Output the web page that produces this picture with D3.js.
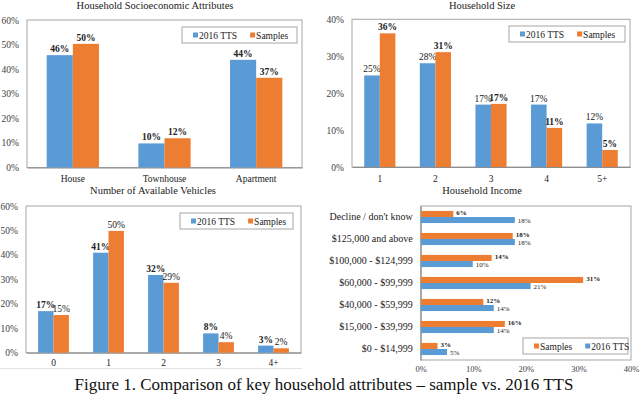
<!DOCTYPE html>
<html>
<head>
<meta charset="utf-8">
<title>Comparison of key household attributes</title>
<style>
  body { margin: 0; background: #fff; }
  svg { display: block; font-family: "Liberation Serif", "Times New Roman", serif; }
  svg text { font-family: "Liberation Serif", "Times New Roman", serif; }
  .tick-label { font-size: 9.5px; fill: #404040; }
  .cat-label { font-size: 9.5px; fill: #222; }
  .title { font-size: 10.5px; fill: #222; }
  .legend text { font-size: 9.5px; fill: #222; }
</style>
</head>
<body>
<svg id="chart" width="640" height="396"></svg>
<script src="https://d3js.org/d3.v7.min.js"></script>
<script>
// ---- data (percent) ----
var seriesNames = ["2016 TTS", "Samples"];

var socioCats = ["House", "Townhouse", "Apartment"];
var socioTTS = [45.7, 9.8, 43.8];
var socioSamples = [50.3, 11.9, 36.5];
var socioTicks = [0, 10, 20, 30, 40, 50, 60];

var sizeCats = ["1", "2", "3", "4", "5+"];
var sizeTTS = [24.8, 28.1, 16.9, 16.9, 11.8];
var sizeSamples = [36.2, 31.1, 17.1, 10.6, 4.6];
var sizeTicks = [0, 10, 20, 30, 40];

var vehCats = ["0", "1", "2", "3", "4+"];
var vehTTS = [17.0, 40.9, 31.8, 7.9, 2.9];
var vehSamples = [15.4, 49.8, 28.6, 4.3, 1.8];
var vehTicks = [0, 10, 20, 30, 40, 50, 60];

var incomeCats = ["Decline / don't know", "$125,000 and above", "$100,000 - $124,999",
  "$60,000 - $99,999", "$40,000 - $59,999", "$15,000 - $39,999", "$0 - $14,999"];
var incomeSamples = [6.2, 17.5, 13.5, 30.9, 11.9, 16.0, 3.2];
var incomeTTS = [17.9, 17.9, 9.9, 20.9, 13.9, 13.9, 5.0];
var incomeTicks = [0, 10, 20, 30, 40];

var caption = "Figure 1. Comparison of key household attributes \u2013 sample vs. 2016 TTS";

// ---- styles ----
var blue = "#5b9bd5";
var orange = "#ed7d31";
var frameColor = "#a6a6a6";

var svg = d3.select("#chart");
svg.append("rect").attr("width", 640).attr("height", 396).attr("fill", "#fff");

function pct(v) { return Math.round(v) + "%"; }

// strip d3 axis default font so the serif from css applies
function plainAxis(a, cls) {
  a.attr("font-family", null).attr("font-size", null);
  a.selectAll("text").attr("class", cls).attr("fill", null);
}

// legend box with swatches
function legend(g, x, y, w, items) {
  var lg = g.append("g").attr("class", "legend").attr("transform", "translate(" + x + "," + y + ")");
  lg.append("rect").attr("width", w).attr("height", 16)
    .attr("fill", "#fff").attr("stroke", frameColor).attr("stroke-width", 1);
  var cx = 11;
  items.forEach(function(it) {
    lg.append("rect").attr("x", cx).attr("y", 5.5).attr("width", 5).attr("height", 5).attr("fill", it.color);
    var t = lg.append("text").attr("x", cx + 6).attr("y", 11.5).text(it.name);
    cx += 6 + t.node().getComputedTextLength() + 13;
  });
}

// vertical grouped bar panel
function vPanel(o) {
  var g = svg.append("g");
  var x = d3.scaleBand().domain(o.cats).range([o.left, o.right]).paddingInner(o.pad).paddingOuter(o.pad / 2);
  var xs = d3.scaleBand().domain(seriesNames).range([0, x.bandwidth()]);
  var y = d3.scaleLinear().domain([0, d3.max(o.ticks)]).range([o.bottom, o.top]);

  g.append("text").attr("class", "title").attr("x", o.titleX).attr("y", o.titleY)
    .attr("text-anchor", "middle").text(o.title);

  g.append("rect").attr("x", o.left).attr("y", o.top)
    .attr("width", o.right - o.left).attr("height", o.bottom - o.top)
    .attr("fill", "none").attr("stroke", frameColor);

  var yAxis = d3.axisLeft(y).tickValues(o.ticks).tickSize(0).tickPadding(8)
    .tickFormat(function(d) { return d + "%"; });
  var ya = g.append("g").attr("transform", "translate(" + o.left + ",0)").call(yAxis);
  ya.select(".domain").remove();
  plainAxis(ya, "tick-label");

  var xAxis = d3.axisBottom(x).tickSize(0).tickPadding(o.xPad);
  var xa = g.append("g").attr("transform", "translate(0," + o.bottom + ")").call(xAxis);
  xa.select(".domain").attr("stroke", "#8c8c8c");
  plainAxis(xa, "cat-label");

  var series = [{ name: seriesNames[0], vals: o.tts, color: blue, bold: o.boldTTS },
                { name: seriesNames[1], vals: o.samples, color: orange, bold: o.boldSamples }];
  series.forEach(function(s) {
    var sg = g.append("g");
    sg.selectAll("rect").data(s.vals).join("rect")
      .attr("x", function(d, i) { return x(o.cats[i]) + xs(s.name); })
      .attr("y", function(d) { return y(d); })
      .attr("width", xs.bandwidth())
      .attr("height", function(d) { return o.bottom - y(d); })
      .attr("fill", s.color);
    sg.selectAll("text").data(s.vals).join("text")
      .attr("x", function(d, i) { return x(o.cats[i]) + xs(s.name) + xs.bandwidth() / 2; })
      .attr("y", function(d) { return y(d) - 3; })
      .attr("text-anchor", "middle")
      .attr("font-size", "9.5px")
      .attr("font-weight", s.bold ? "bold" : "normal")
      .attr("fill", "#222")
      .text(pct);
  });

  legend(g, o.legX, o.legY, o.legW, [{ name: seriesNames[0], color: blue }, { name: seriesNames[1], color: orange }]);
}

vPanel({ title: "Household Socioeconomic Attributes", titleX: 155, titleY: 9,
  cats: socioCats, tts: socioTTS, samples: socioSamples, ticks: socioTicks,
  left: 27, right: 302, top: 20, bottom: 167.5, pad: 0.43, xPad: 8,
  boldTTS: true, boldSamples: true, legX: 182, legY: 27, legW: 115 });

vPanel({ title: "Household Size", titleX: 482, titleY: 9,
  cats: sizeCats, tts: sizeTTS, samples: sizeSamples, ticks: sizeTicks,
  left: 352, right: 630, top: 19.3, bottom: 167, pad: 0.44, xPad: 8,
  boldTTS: false, boldSamples: true, legX: 509, legY: 26, legW: 116 });

vPanel({ title: "Number of Available Vehicles", titleX: 153, titleY: 194,
  cats: vehCats, tts: vehTTS, samples: vehSamples, ticks: vehTicks,
  left: 26, right: 301, top: 206, bottom: 352.7, pad: 0.44, xPad: 7,
  boldTTS: true, boldSamples: false, legX: 180, legY: 213, legW: 113 });

// faint outer border under the vehicles chart
svg.append("line").attr("x1", 0).attr("x2", 302).attr("y1", 368.5).attr("y2", 368.5)
  .attr("stroke", "#e4e4e4");

// horizontal income panel
(function() {
  var left = 420.7, right = 631, top = 206, bottom = 360;
  var g = svg.append("g");
  var y = d3.scaleBand().domain(incomeCats).range([top, bottom]).paddingInner(0.45).paddingOuter(0.225);
  var ys = d3.scaleBand().domain(["Samples", "2016 TTS"]).range([0, y.bandwidth()]);
  var x = d3.scaleLinear().domain([0, 40]).range([left, right]);

  g.append("text").attr("class", "title").attr("x", 482).attr("y", 194)
    .attr("text-anchor", "middle").text("Household Income");

  g.append("rect").attr("x", left).attr("y", top).attr("width", right - left).attr("height", bottom - top)
    .attr("fill", "none").attr("stroke", frameColor);

  var xa = g.append("g").attr("transform", "translate(0," + bottom + ")")
    .call(d3.axisBottom(x).tickValues(incomeTicks).tickSize(0).tickPadding(6)
      .tickFormat(function(d) { return d + "%"; }));
  xa.select(".domain").remove();
  plainAxis(xa, "tick-label");
  xa.selectAll("text").style("font-size", "8.5px");

  var ya = g.append("g").attr("transform", "translate(" + left + ",0)")
    .call(d3.axisLeft(y).tickSize(0).tickPadding(8));
  ya.select(".domain").attr("stroke", "#8c8c8c");
  plainAxis(ya, "cat-label");
  ya.selectAll("text").style("font-size", "10px");

  var series = [{ name: "Samples", vals: incomeSamples, color: orange, bold: true, dy: -0.5 },
                { name: "2016 TTS", vals: incomeTTS, color: blue, bold: false, dy: 1.5 }];
  series.forEach(function(s) {
    var sg = g.append("g");
    sg.selectAll("rect").data(s.vals).join("rect")
      .attr("x", left)
      .attr("y", function(d, i) { return y(incomeCats[i]) + ys(s.name); })
      .attr("width", function(d) { return x(d) - left; })
      .attr("height", ys.bandwidth())
      .attr("fill", s.color);
    sg.selectAll("text").data(s.vals).join("text")
      .attr("x", function(d) { return x(d) + 3; })
      .attr("y", function(d, i) { return y(incomeCats[i]) + ys(s.name) + ys.bandwidth() / 2 + s.dy; })
      .attr("dominant-baseline", "middle")
      .attr("font-size", "7px")
      .attr("font-weight", s.bold ? "bold" : "normal")
      .attr("fill", "#222")
      .text(pct);
  });

  legend(g, 523, 338, 105, [{ name: "Samples", color: orange }, { name: "2016 TTS", color: blue }]);
})();

svg.append("text").attr("x", 324).attr("y", 390).attr("text-anchor", "middle")
  .attr("font-size", "17px").attr("fill", "#111").text(caption);
</script>
</body>
</html>
